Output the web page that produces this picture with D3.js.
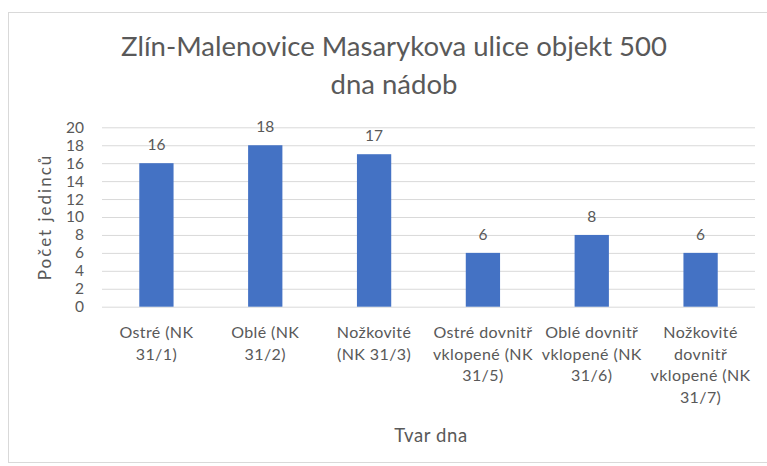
<!DOCTYPE html>
<html>
<head>
<meta charset="utf-8">
<script src="https://cdn.jsdelivr.net/npm/d3@7"></script>
<style>
  html, body { margin: 0; padding: 0; background: #fff; }
  svg { display: block; }
  text { font-family: Lato, "Open Sans", sans-serif; fill: #595959; }
</style>
</head>
<body>
<script>
// Dna nádob – počty jedinců podle tvaru dna
const categories = [
  ["Ostré (NK", "31/1)"],
  ["Oblé (NK", "31/2)"],
  ["Nožkovité", "(NK 31/3)"],
  ["Ostré dovnitř", "vklopené (NK", "31/5)"],
  ["Oblé dovnitř", "vklopené (NK", "31/6)"],
  ["Nožkovité", "dovnitř", "vklopené (NK", "31/7)"]
];
const values = [16, 18, 17, 6, 8, 6];
const yTicks = [0, 2, 4, 6, 8, 10, 12, 14, 16, 18, 20];
const titleLines = ["Zlín-Malenovice Masarykova ulice objekt 500", "dna nádob"];
const yTitle = "Počet jedinců";
const xTitle = "Tvar dna";

const W = 767, H = 466;
const plot = { left: 102, right: 755, top: 127.3, bottom: 306.7 };

const svg = d3.select("body").append("svg").attr("width", W).attr("height", H);

// chart frame
svg.append("rect")
  .attr("x", 8.5).attr("y", 12.5)
  .attr("width", W + 10).attr("height", 450)
  .attr("fill", "#fff").attr("stroke", "#d9d9d9");

// title
svg.append("g").selectAll("text").data(titleLines).join("text")
  .attr("x", 394)
  .attr("y", (d, i) => 56 + i * 37.5)
  .attr("text-anchor", "middle")
  .attr("font-size", 27.5)
  .text(d => d);

const x = d3.scaleBand()
  .domain(d3.range(categories.length))
  .range([plot.left, plot.right])
  .paddingInner(0.685)
  .paddingOuter(0.3425);

const y = d3.scaleLinear().domain([0, 20]).range([plot.bottom, plot.top]);

// gridlines + y tick labels
const yAxis = d3.axisLeft(y).tickValues(yTicks).tickSize(-(plot.right - plot.left)).tickPadding(18);
const gy = svg.append("g").attr("transform", `translate(${plot.left},0)`).call(yAxis);
gy.select(".domain").remove();
gy.selectAll(".tick line").attr("stroke", "#d9d9d9").attr("stroke-width", 1);
gy.selectAll(".tick text")
  .attr("font-size", 15.5)
  .attr("fill", "#595959")
  .style("font-family", "Lato, 'Open Sans', sans-serif");

// bars
svg.append("g").selectAll("rect").data(values).join("rect")
  .attr("x", (d, i) => x(i))
  .attr("width", x.bandwidth())
  .attr("y", d => y(d))
  .attr("height", d => y(0) - y(d))
  .attr("fill", "#4472c4");

// value labels
svg.append("g").selectAll("text").data(values).join("text")
  .attr("x", (d, i) => x(i) + x.bandwidth() / 2)
  .attr("y", d => y(d) - 13)
  .attr("text-anchor", "middle")
  .attr("font-size", 15.5)
  .text(d => d);

// x category labels (wrapped)
const xl = svg.append("g").selectAll("text").data(categories).join("text")
  .attr("text-anchor", "middle")
  .attr("font-size", 16)
  .attr("letter-spacing", 0.4);
xl.each(function (lines, i) {
  d3.select(this).selectAll("tspan").data(lines).join("tspan")
    .attr("x", x(i) + x.bandwidth() / 2)
    .attr("y", (d, j) => 338 + j * 21.5)
    .text(d => d);
});

// axis titles
svg.append("text")
  .attr("transform", "translate(51,217) rotate(-90)")
  .attr("text-anchor", "middle")
  .attr("font-size", 17)
  .attr("letter-spacing", 2)
  .text(yTitle);

svg.append("text")
  .attr("x", 431).attr("y", 442)
  .attr("text-anchor", "middle")
  .attr("font-size", 18.5)
  .attr("letter-spacing", 0.6)
  .text(xTitle);
</script>
</body>
</html>
